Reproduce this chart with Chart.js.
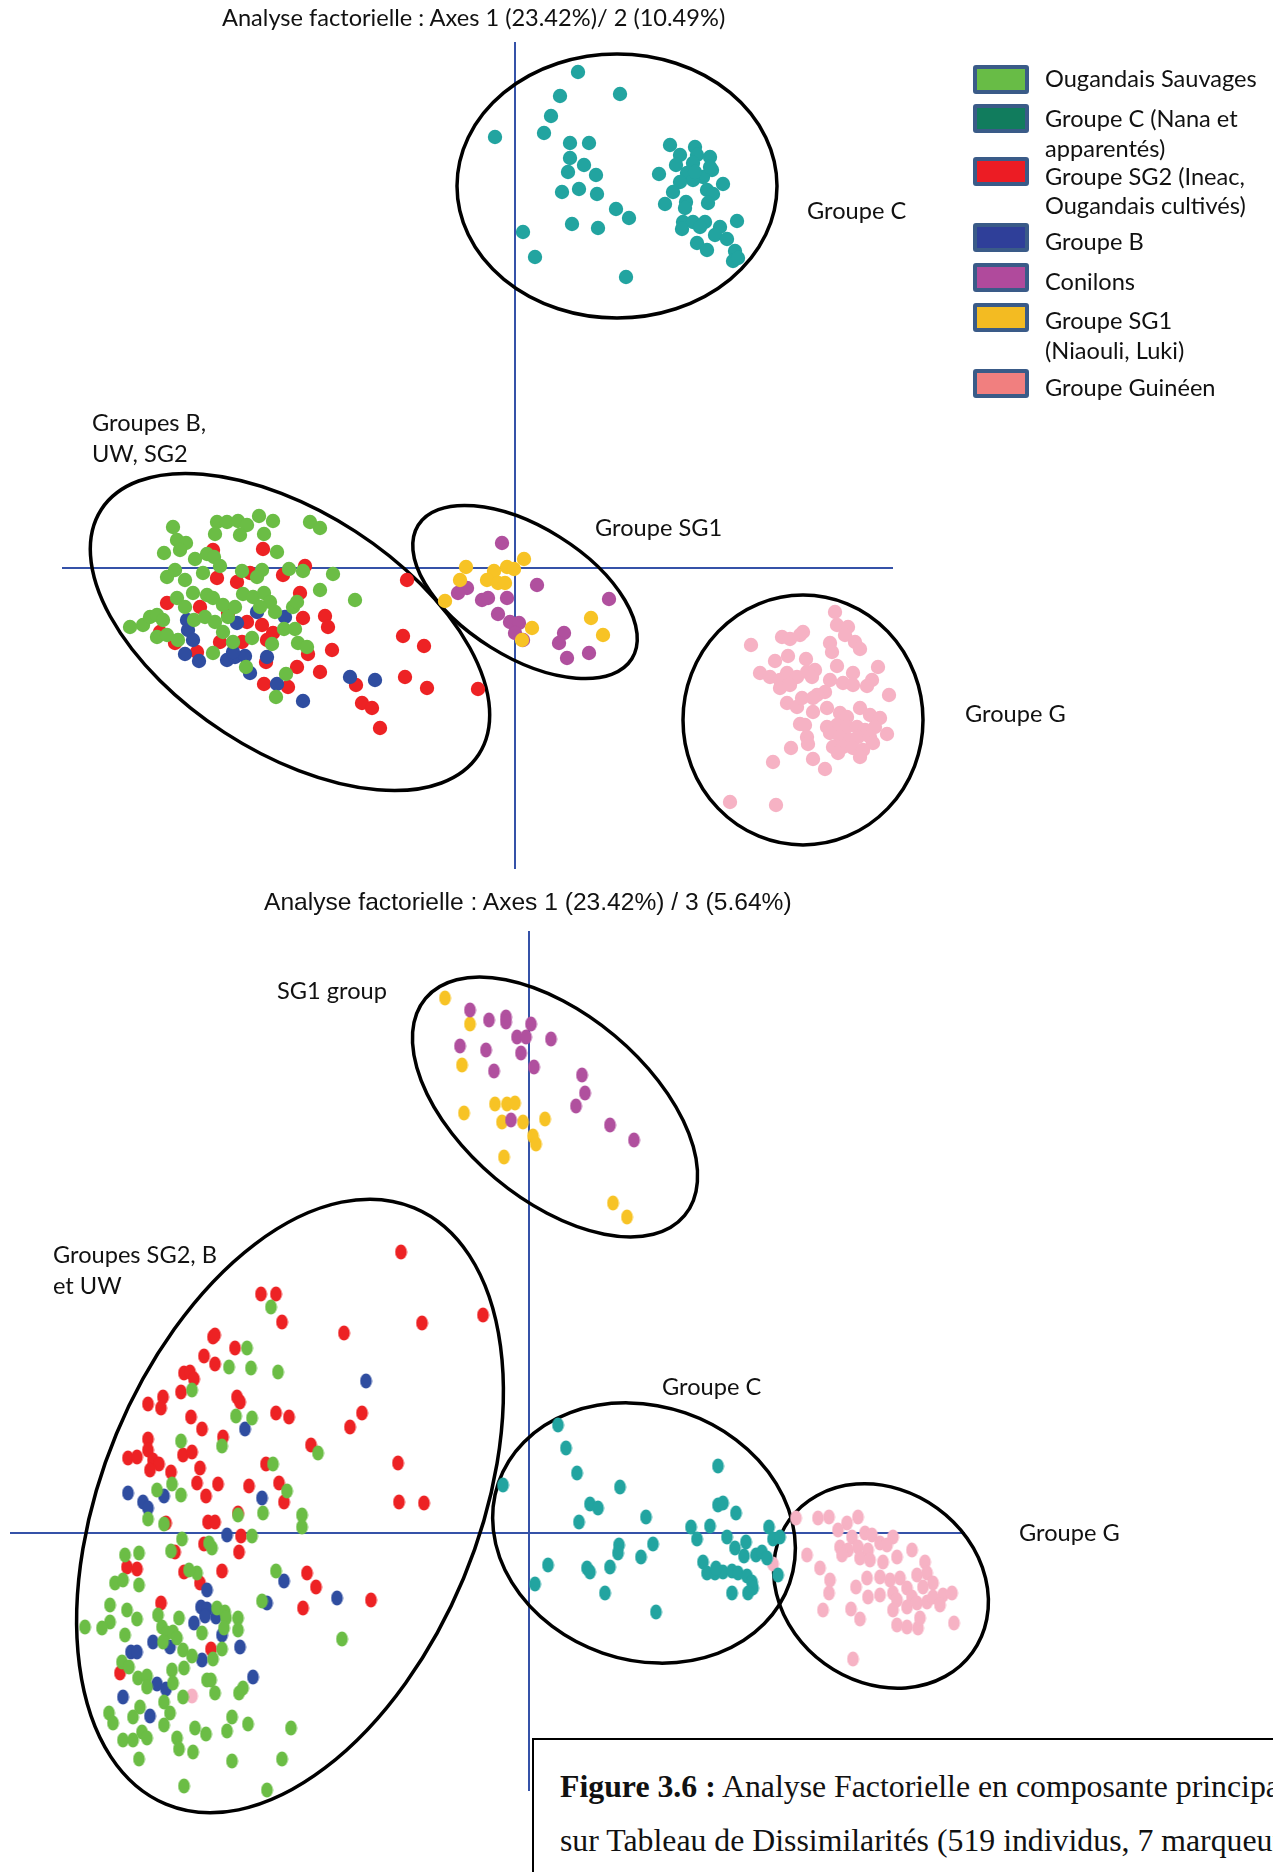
<!DOCTYPE html>
<html lang="fr">
<head>
<meta charset="UTF-8">
<title>Analyse factorielle</title>
<style>
  body { margin: 0; background: #ffffff; }
  #page { position: relative; width: 1273px; height: 1872px; overflow: hidden; background: #ffffff; }
  canvas { position: absolute; left: 0; }
  #topChart { top: 0; width: 1273px; height: 880px; }
  #bottomChart { top: 880px; width: 1273px; height: 992px; }
  .txt { position: absolute; white-space: nowrap; color: #111; font-family: Lato, "Open Sans", sans-serif; font-size: 23.6px; transform: translateY(-50%); }
  .arial { font-family: "Liberation Sans", Arial, sans-serif; font-size: 24.6px; }
  .swatch { position: absolute; left: 973px; width: 48px; height: 21px; border: 4px solid #3a5b88; border-radius: 3px; }
  #caption { position: absolute; left: 532px; top: 1738px; width: 900px; height: 200px; border: 2px solid #000; background: #fff;
             font-family: "Liberation Serif", "Times New Roman", serif; font-size: 31.8px; color: #111; }
  #caption div { position: absolute; left: 26px; white-space: nowrap; transform: translateY(-50%); }
</style>
</head>
<body>
<div id="page">
  <canvas id="topChart" width="1273" height="880"></canvas>
  <canvas id="bottomChart" width="1273" height="992"></canvas>
  <div id="labels"></div>
  <div id="caption">
    <div style="top:47px"><b>Figure 3.6 :</b> Analyse Factorielle en composante principale</div>
    <div style="top:101px">sur Tableau de Dissimilarités (519 individus, 7 marqueurs)</div>
  </div>
</div>

<script src="https://cdn.jsdelivr.net/npm/chart.js"></script>
<script>
// factor coordinates (x100)
const topGreen = [[-342,41],[-298,46],[-288,46],[-277,47],[-268,43],[-256,52],[-242,47],[-300,34],[-275,33],[-251,34],[-205,46],[-195,40],[-338,28],[-329,25],[-351,15],[-335,18],[-238,16],[-320,9],[-308,14],[-301,11],[-295,2],[-312,-5],[-348,-9],[-340,-2],[-330,-12],[-273,-3],[-253,-2],[-258,-9],[-226,-1],[-212,-3],[-182,-6],[-195,-22],[-160,-32],[-385,-59],[-372,-57],[-365,-49],[-358,-47],[-352,-52],[-358,-69],[-348,-67],[-337,-72],[-338,-30],[-330,-39],[-322,-25],[-308,-27],[-302,-30],[-292,-37],[-280,-39],[-272,-26],[-262,-29],[-251,-25],[-245,-34],[-240,-44],[-255,-39],[-222,-39],[-218,-34],[-321,-52],[-310,-49],[-300,-54],[-292,-64],[-287,-49],[-282,-74],[-263,-70],[-243,-76],[-231,-61],[-220,-61],[-217,-75],[-208,-79],[-302,-85],[-269,-99],[-229,-106],[-239,-129]];
const topRed = [[-252,19],[-302,18],[-210,2],[-232,-7],[-278,-14],[-298,-10],[-265,-5],[-215,-25],[-190,-48],[-187,-59],[-212,-50],[-183,-82],[-207,-86],[-218,-99],[-195,-104],[-251,-116],[-227,-119],[-159,-117],[-153,-135],[-143,-140],[-135,-160],[-108,-12],[-112,-68],[-91,-78],[-110,-109],[-88,-120],[-37,-121],[-348,-35],[-355,-64],[-340,-75],[-318,-84],[-295,-74],[-273,-74],[-253,-57],[-242,-65],[-268,-54],[-248,-72],[-315,-39],[-287,-45],[-249,-94]];
const topBlue = [[-330,-86],[-316,-93],[-288,-92],[-280,-89],[-270,-88],[-265,-105],[-248,-89],[-238,-116],[-212,-133],[-165,-109],[-140,-112],[-278,-55],[-230,-49],[-258,-44],[-327,-62],[-328,-52],[-322,-72],[-282,-84]];
const topTeal = [[63,496],[105,474],[45,472],[36,452],[-20,431],[29,435],[55,425],[74,425],[55,410],[69,403],[53,396],[81,393],[47,376],[64,379],[82,374],[101,359],[114,350],[57,344],[83,340],[8,336],[20,311],[111,291],[155,423],[180,421],[165,413],[182,413],[195,411],[161,403],[178,405],[197,398],[144,394],[172,395],[188,391],[178,388],[165,386],[158,376],[208,384],[192,378],[198,374],[193,365],[150,364],[171,366],[170,360],[168,346],[178,346],[190,346],[185,341],[167,339],[205,341],[222,347],[200,333],[212,329],[182,325],[192,318],[220,317],[218,307],[223,310],[195,401],[180,396]];
const topPurple = [[-13,25],[22,-17],[-48,-20],[-57,-25],[-33,-32],[-27,-30],[-8,-30],[-17,-46],[-5,-54],[4,-55],[0,-65],[8,-72],[49,-65],[44,-75],[52,-90],[74,-85],[94,-31]];
const topYellow = [[9,9],[-49,1],[-55,-12],[-21,-3],[-8,1],[-1,-1],[-28,-12],[-17,-15],[-10,-15],[-70,-33],[17,-60],[7,-72],[76,-50],[88,-67]];
const topPink = [[320,-44],[322,-57],[333,-59],[330,-67],[340,-74],[345,-81],[267,-69],[275,-71],[285,-67],[288,-64],[236,-77],[315,-75],[317,-84],[260,-93],[273,-88],[291,-91],[245,-105],[255,-109],[265,-112],[272,-105],[282,-109],[292,-104],[300,-102],[297,-109],[265,-120],[275,-117],[322,-98],[338,-105],[363,-99],[357,-112],[352,-118],[328,-115],[315,-112],[310,-124],[302,-127],[338,-117],[374,-127],[272,-135],[282,-139],[287,-130],[298,-130],[298,-144],[312,-140],[325,-145],[332,-149],[345,-140],[355,-147],[365,-150],[285,-156],[290,-157],[312,-159],[322,-157],[332,-159],[342,-159],[350,-162],[360,-159],[372,-166],[292,-169],[293,-176],[315,-165],[325,-169],[335,-172],[343,-169],[355,-169],[358,-175],[318,-179],[328,-179],[338,-180],[348,-182],[323,-185],[345,-189],[276,-180],[258,-194],[298,-191],[310,-201],[215,-234],[261,-237]];

const botGreen = [[-258,226],[-282,185],[-300,166],[-278,165],[-251,161],[-337,143],[-293,117],[-277,115],[-348,92],[-307,87],[-211,80],[-256,69],[-372,43],[-357,49],[-348,38],[-381,14],[-365,9],[-242,42],[-291,18],[-266,20],[-227,18],[-227,6],[-347,-6],[-320,-10],[-317,-15],[-277,-3],[-404,-22],[-390,-20],[-358,-18],[-332,-40],[-340,-37],[-253,-38],[-414,-50],[-406,-47],[-390,-52],[-419,-72],[-402,-77],[-392,-86],[-419,-89],[-427,-95],[-444,-94],[-404,-102],[-371,-82],[-350,-85],[-367,-94],[-362,-100],[-356,-99],[-352,-105],[-366,-109],[-327,-100],[-312,-75],[-304,-79],[-303,-85],[-291,-85],[-291,-97],[-305,-95],[-307,-116],[-346,-117],[-337,-123],[-316,-126],[-407,-129],[-400,-134],[-391,-145],[-382,-143],[-382,-154],[-357,-137],[-345,-135],[-356,-150],[-322,-147],[-318,-147],[-314,-160],[-290,-160],[-286,-155],[-346,-164],[-365,-169],[-359,-180],[-389,-174],[-396,-184],[-420,-180],[-416,-190],[-406,-207],[-396,-207],[-387,-199],[-382,-205],[-390,-226],[-365,-192],[-352,-205],[-350,-216],[-334,-195],[-323,-201],[-336,-219],[-302,-198],[-297,-184],[-281,-191],[-238,-195],[-297,-228],[-247,-226],[-345,-253],[-262,-257],[-267,-68],[-187,-106]];
const botRed = [[-128,281],[-268,239],[-253,239],[-247,211],[-185,200],[-107,210],[-46,218],[-316,196],[-314,198],[-294,185],[-325,177],[-314,169],[-345,160],[-339,161],[-335,154],[-348,141],[-292,136],[-289,131],[-366,136],[-381,129],[-368,125],[-338,116],[-327,104],[-306,96],[-253,120],[-240,116],[-167,120],[-179,106],[-218,88],[-381,94],[-381,83],[-401,75],[-392,76],[-376,73],[-370,69],[-379,63],[-346,78],[-337,81],[-329,65],[-358,61],[-332,50],[-311,49],[-323,37],[-280,47],[-263,69],[-250,50],[-245,31],[-131,70],[-130,31],[-105,30],[-291,20],[-321,11],[-314,11],[-363,10],[-288,-3],[-325,-11],[-290,-19],[-354,-19],[-402,-34],[-392,-36],[-345,-39],[-329,-50],[-307,-38],[-222,-40],[-213,-54],[-226,-75],[-158,-67],[-368,-70],[-318,-116],[-409,-140]];
const botBlue = [[-163,152],[-284,104],[-401,40],[-386,31],[-381,25],[-365,37],[-267,35],[-302,-2],[-322,-57],[-328,-74],[-322,-76],[-324,-83],[-335,-90],[-313,-84],[-307,-102],[-376,-109],[-398,-119],[-392,-119],[-359,-114],[-327,-127],[-289,-114],[-276,-144],[-372,-151],[-363,-156],[-406,-164],[-379,-183],[-262,-70],[-245,-48],[-192,-65]];
const botTeal = [[29,108],[37,85],[48,60],[-26,48],[91,46],[189,67],[61,29],[69,25],[50,11],[117,16],[189,28],[194,30],[207,20],[162,6],[181,7],[168,-6],[198,-4],[240,6],[244,-6],[251,-4],[124,-11],[90,-12],[89,-20],[112,-24],[19,-32],[58,-35],[61,-39],[81,-34],[6,-51],[76,-60],[127,-79],[217,-9],[206,-15],[215,-23],[227,-22],[233,-19],[238,-25],[174,-29],[178,-40],[186,-40],[194,-39],[203,-38],[209,-40],[218,-43],[223,-49],[224,-55],[219,-60],[203,-60],[249,-42],[187,-35]];
const botPurple = [[-59,523],[-40,513],[-23,516],[-23,511],[2,509],[-12,496],[-3,496],[22,494],[-69,487],[-43,483],[-8,480],[-35,462],[5,466],[53,458],[56,440],[47,427],[-18,413],[81,408],[105,393]];
const botYellow = [[-84,535],[-59,509],[-67,468],[-34,429],[-22,429],[-14,430],[-65,420],[-27,411],[-6,411],[16,414],[4,397],[7,389],[-25,376],[84,330],[98,316]];
const botPink = [[267,15],[289,15],[300,16],[318,10],[329,16],[309,3],[323,-4],[336,0],[343,-2],[364,-4],[311,-14],[319,-17],[329,-14],[339,-17],[351,-10],[358,-12],[313,-22],[331,-25],[341,-27],[354,-29],[368,-24],[383,-17],[278,-22],[291,-35],[301,-47],[300,-60],[294,-77],[327,-54],[339,-64],[338,-45],[351,-44],[361,-47],[371,-45],[351,-62],[364,-60],[378,-55],[388,-42],[396,-29],[398,-40],[404,-50],[394,-54],[383,-64],[368,-67],[364,-77],[378,-74],[388,-70],[398,-69],[404,-64],[414,-62],[423,-60],[411,-72],[368,-92],[378,-94],[389,-95],[391,-85],[425,-90],[322,-76],[331,-86],[324,-126],[244,-31],[-337,-163]];

// group ellipses: centre, semi-axes (same units), rotation in degrees
const topEllipses = [
  { cx: 102, cy: 382, a: 160, b: 132, rot: 0 },
  { cx: -225, cy: -64, a: 225, b: 120, rot: 33 },
  { cx: 10, cy: -24, a: 126, b: 65, rot: 32 },
  { cx: 288, cy: -152, a: 120, b: 125, rot: 0 }
];
const bottomEllipses = [
  { cx: 26, cy: 426, a: 169, b: 93, rot: 40 },
  { cx: -239, cy: 27, a: 323, b: 188, rot: -67.4 },
  { cx: 115, cy: 0, a: 154, b: 127, rot: 19 },
  { cx: 352, cy: -53, a: 113, b: 96, rot: 36 }
];

const colors = {
  green: '#6bbd45', red: '#ed2224', blue: '#2f4da0', teal: '#22a4a0',
  purple: '#b0509e', yellow: '#f7c325', pink: '#f6b2c4'
};
const axisColor = '#3552a8';

// small elliptical markers for the second plot
function ovalMarker(color) {
  const c = document.createElement('canvas');
  c.width = 13; c.height = 16;
  const g = c.getContext('2d');
  g.fillStyle = color;
  g.beginPath();
  g.ellipse(6.5, 8, 5.9, 7.5, 0, 0, Math.PI * 2);
  g.fill();
  return c;
}

const decor = {
  id: 'decor',
  beforeDatasetsDraw(chart, args, opts) {
    const { ctx, scales: { x, y } } = chart;
    ctx.save();
    ctx.strokeStyle = axisColor;
    ctx.lineWidth = 2;
    const x0 = x.getPixelForValue(0), y0 = y.getPixelForValue(0);
    ctx.beginPath();
    ctx.moveTo(x0, y.getPixelForValue(opts.vAxis[0]));
    ctx.lineTo(x0, y.getPixelForValue(opts.vAxis[1]));
    ctx.moveTo(x.getPixelForValue(opts.hAxis[0]), y0);
    ctx.lineTo(x.getPixelForValue(opts.hAxis[1]), y0);
    ctx.stroke();

    ctx.strokeStyle = '#000';
    ctx.lineWidth = 3.5;
    opts.ellipses.forEach(e => {
      const cx = x.getPixelForValue(e.cx), cy = y.getPixelForValue(e.cy);
      const rx = Math.abs(x.getPixelForValue(e.cx + e.a) - cx);
      const ry = Math.abs(x.getPixelForValue(e.cx + e.b) - cx);
      ctx.beginPath();
      ctx.ellipse(cx, cy, rx, ry, e.rot * Math.PI / 180, 0, Math.PI * 2);
      ctx.stroke();
    });
    ctx.restore();
  }
};

function ds(data, color, order, style) {
  return {
    data: data,
    backgroundColor: color,
    borderWidth: 0,
    pointRadius: 7.2,
    pointStyle: style || 'circle',
    order: order
  };
}

function makeChart(id, datasets, xr, yr, ellipses, vAxis, hAxis) {
  return new Chart(document.getElementById(id), {
    type: 'scatter',
    data: { datasets: datasets },
    options: {
      responsive: false,
      animation: false,
      events: [],
      layout: { padding: 0, autoPadding: false },
      scales: {
        x: { type: 'linear', min: xr[0], max: xr[1], display: false },
        y: { type: 'linear', min: yr[0], max: yr[1], display: false }
      },
      plugins: {
        legend: { display: false },
        tooltip: { enabled: false },
        decor: { ellipses: ellipses, vAxis: vAxis, hAxis: hAxis }
      }
    },
    plugins: [decor]
  });
}

makeChart('topChart', [
  ds(topRed, colors.red, 2),
  ds(topBlue, colors.blue, 1),
  ds(topGreen, colors.green, 0),
  ds(topTeal, colors.teal, 0),
  ds(topPurple, colors.purple, 1),
  ds(topYellow, colors.yellow, 0),
  ds(topPink, colors.pink, 0)
], [-515, 758], [-312, 568], topEllipses, [526, -301], [-453, 378]);

makeChart('bottomChart', [
  ds(botRed, colors.red, 2, ovalMarker(colors.red)),
  ds(botBlue, colors.blue, 1, ovalMarker(colors.blue)),
  ds(botGreen, colors.green, 0, ovalMarker(colors.green)),
  ds(botTeal, colors.teal, 0, ovalMarker(colors.teal)),
  ds(botYellow, colors.yellow, 1, ovalMarker(colors.yellow)),
  ds(botPurple, colors.purple, 0, ovalMarker(colors.purple)),
  ds(botPink, colors.pink, 0, ovalMarker(colors.pink))
], [-529, 744], [-339, 653], bottomEllipses, [602, -258], [-519, 436]);

// legend
const legendNames = ['Ougandais Sauvages', 'Groupe C (Nana et\napparentés)', 'Groupe SG2 (Ineac,\nOugandais cultivés)', 'Groupe B', 'Conilons', 'Groupe SG1\n(Niaouli, Luki)', 'Groupe Guinéen'];
const legendFills = ['#68bc46', '#117c5d', '#ec1c24', '#2f3f99', '#b04a9c', '#f3bb22', '#f17f7f'];
const legendBoxTop = [65, 104, 157, 223, 263, 303, 369];
const legendLineY = [[78], [118, 148], [176, 205], [241], [281], [320, 350], [387]];

const labels = document.getElementById('labels');
function addText(text, left, cy, cls) {
  const d = document.createElement('div');
  d.className = 'txt' + (cls ? ' ' + cls : '');
  d.textContent = text;
  d.style.left = left + 'px';
  d.style.top = cy + 'px';
  labels.appendChild(d);
  return d;
}
legendNames.forEach((name, i) => {
  const sw = document.createElement('div');
  sw.className = 'swatch';
  sw.style.top = legendBoxTop[i] + 'px';
  sw.style.background = legendFills[i];
  labels.appendChild(sw);
  name.split('\n').forEach((line, j) => addText(line, 1045, legendLineY[i][j]));
});

// titles and group labels
addText('Analyse factorielle : Axes 1 (23.42%)/ 2 (10.49%)', 222, 17);
addText('Groupe C', 807, 210);
addText('Groupes B,', 92, 422);
addText('UW, SG2', 92, 453);
addText('Groupe SG1', 595, 527);
addText('Groupe G', 965, 713);
addText('Analyse factorielle : Axes 1 (23.42%) / 3 (5.64%)', 264, 902, 'arial');
addText('SG1 group', 277, 990);
addText('Groupes SG2, B', 53, 1254);
addText('et UW', 53, 1285);
addText('Groupe C', 662, 1386);
addText('Groupe G', 1019, 1532);
</script>
</body>
</html>
